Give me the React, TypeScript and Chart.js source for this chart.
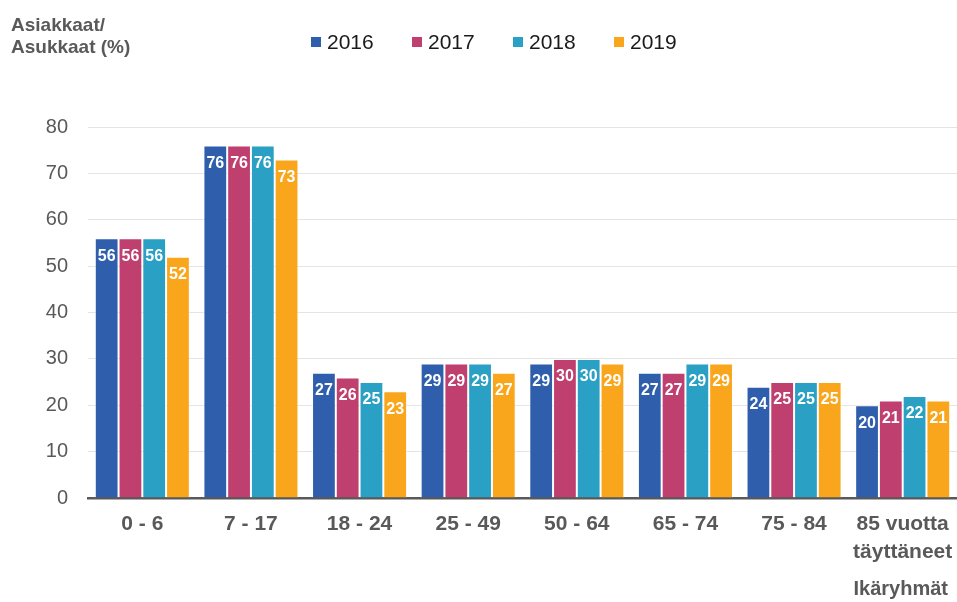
import React, { useEffect, useRef } from "react";
import { Chart, registerables } from "chart.js";

Chart.register(...registerables);

const categories: (string | string[])[] = [
  "0 - 6",
  "7 - 17",
  "18 - 24",
  "25 - 49",
  "50 - 64",
  "65 - 74",
  "75 - 84",
  ["85 vuotta", "täyttäneet"],
];
const years = ["2016", "2017", "2018", "2019"];
const values2016 = [56, 76, 27, 29, 29, 27, 24, 20];
const values2017 = [56, 76, 26, 29, 30, 27, 25, 21];
const values2018 = [56, 76, 25, 29, 30, 29, 25, 22];
const values2019 = [52, 73, 23, 27, 29, 29, 25, 21];
const colors = ["#2F5FAC", "#BF3F6F", "#2AA0C4", "#F9A61C"];
const yTitle = ["Asiakkaat/", "Asukkaat (%)"];
const xTitle = "Ikäryhmät";

const FONT = "'Liberation Sans', Arial, sans-serif";
const GRAY = "#595959";

const labelsPlugin = {
  id: "valueLabels",
  afterDatasetsDraw(chart: any) {
    const ctx = chart.ctx;
    ctx.save();
    ctx.font = `bold 16px ${FONT}`;
    ctx.fillStyle = "#ffffff";
    ctx.textAlign = "center";
    ctx.textBaseline = "top";
    chart.data.datasets.forEach((ds: any, i: number) => {
      const meta = chart.getDatasetMeta(i);
      meta.data.forEach((el: any, j: number) => {
        ctx.fillText(String(ds.data[j]), el.x, el.y + 10);
      });
    });
    ctx.restore();
  },
};

const textPlugin = {
  id: "texts",
  afterDraw(chart: any) {
    const ctx = chart.ctx;
    ctx.save();
    ctx.font = `bold 19px ${FONT}`;
    ctx.fillStyle = GRAY;
    ctx.textAlign = "left";
    ctx.textBaseline = "alphabetic";
    ctx.fillText(yTitle[0], 11, 31);
    ctx.fillText(yTitle[1], 11, 53);
    ctx.textAlign = "right";
    ctx.font = `bold 20px ${FONT}`;
    ctx.fillText(xTitle, 948, 595);
    const startX = 311;
    const step = 101;
    ctx.font = `21px ${FONT}`;
    ctx.textAlign = "left";
    ctx.textBaseline = "middle";
    chart.data.datasets.forEach((ds: any, i: number) => {
      const x = startX + i * step;
      ctx.fillStyle = ds.backgroundColor;
      ctx.fillRect(x, 37, 10, 10);
      ctx.fillStyle = "#1a1a1a";
      ctx.fillText(ds.label, x + 16, 43);
    });
    ctx.restore();
  },
};

export default function App() {
  const ref = useRef<HTMLCanvasElement>(null);
  useEffect(() => {
    document.body.style.margin = "0";
    const series = [values2016, values2017, values2018, values2019];
    const chart = new Chart(ref.current!, {
      type: "bar",
      data: {
        labels: categories,
        datasets: years.map((y, i) => ({
          label: y,
          data: series[i],
          backgroundColor: colors[i],
          borderColor: "rgba(255,255,255,0.55)",
          borderWidth: 1,
          categoryPercentage: 0.875,
          barPercentage: 1,
        })),
      },
      options: {
        responsive: false,
        animation: false,
        layout: { padding: { top: 127, left: 0, right: 0, bottom: 0 } },
        plugins: {
          legend: { display: false },
          tooltip: { enabled: false },
          title: { display: false },
        },
        scales: {
          x: {
            grid: { display: false, drawTicks: false },
            border: { display: true, color: GRAY, width: 2.5 },
            ticks: {
              color: GRAY,
              font: { family: FONT, size: 21, weight: "bold", lineHeight: 1.3 },
              padding: 13,
              maxRotation: 0,
              autoSkip: false,
            },
            afterFit(scale: any) {
              scale.height = 104;
              scale.paddingRight = 0;
              scale.paddingLeft = 0;
            },
          },
          y: {
            min: 0,
            max: 80,
            ticks: {
              stepSize: 10,
              color: GRAY,
              font: { family: FONT, size: 20 },
              padding: 20,
            },
            grid: { color: "#E4E4E4", lineWidth: 1, drawTicks: false },
            border: { display: false },
            afterFit(scale: any) {
              scale.width = 88;
              scale.paddingTop = 0;
              scale.paddingBottom = 0;
            },
          },
        },
      },
      plugins: [labelsPlugin, textPlugin],
    });
    return () => chart.destroy();
  }, []);
  return (
    <div style={{ width: 957, height: 602 }}>
      <canvas ref={ref} width={957} height={602} />
    </div>
  );
}
